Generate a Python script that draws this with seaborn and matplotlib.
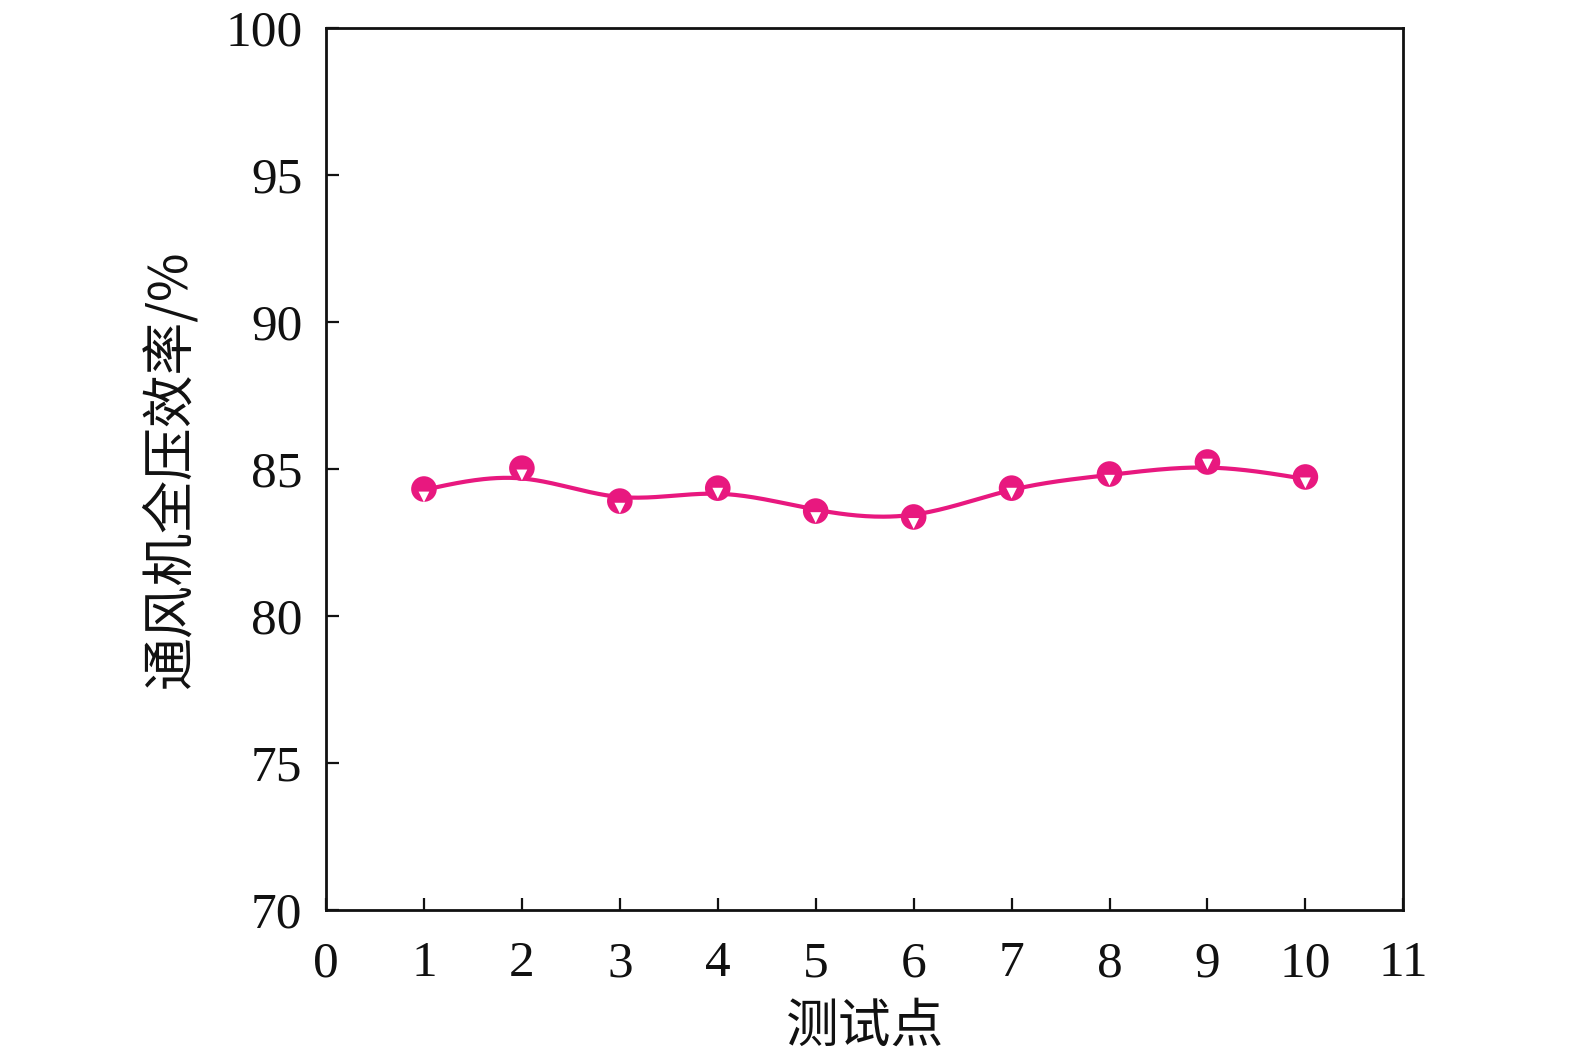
import numpy as np
import pandas as pd
import matplotlib
matplotlib.use("Agg")
import matplotlib.pyplot as plt
import seaborn as sns

# 数据
test_points = [1, 2, 3, 4, 5, 6, 7, 8, 9, 10]
efficiency = [84.32, 85.03, 83.91, 84.35, 83.57, 83.37, 84.35, 84.83, 85.24, 84.73]
efficiency_tri = [84.05, 84.80, 83.67, 84.18, 83.35, 83.15, 84.18, 84.62, 85.17, 84.53]
# 平滑曲线在各测试点处的取值
curve_vals = [84.29, 84.68, 84.05, 84.16, 83.62, 83.45, 84.29, 84.80, 85.05, 84.66]
x_ticks = list(range(0, 12))
y_ticks = [70, 75, 80, 85, 90, 95, 100]


def natural_spline(x, y, xs):
    x = np.asarray(x, float)
    y = np.asarray(y, float)
    n = len(x)
    h = np.diff(x)
    A = np.zeros((n, n))
    b = np.zeros(n)
    A[0, 0] = A[-1, -1] = 1
    for i in range(1, n - 1):
        A[i, i - 1] = h[i - 1]
        A[i, i] = 2 * (h[i - 1] + h[i])
        A[i, i + 1] = h[i]
        b[i] = 6 * ((y[i + 1] - y[i]) / h[i] - (y[i] - y[i - 1]) / h[i - 1])
    m = np.linalg.solve(A, b)
    idx = np.clip(np.searchsorted(x, xs) - 1, 0, n - 2)
    t = xs - x[idx]
    hi = h[idx]
    a = (m[idx + 1] - m[idx]) / (6 * hi)
    bb = m[idx] / 2
    c = (y[idx + 1] - y[idx]) / hi - hi * (2 * m[idx] + m[idx + 1]) / 6
    return y[idx] + c * t + bb * t ** 2 + a * t ** 3


sns.set_theme(style="white")
plt.rcParams["font.family"] = ["Liberation Serif", "Noto Sans CJK SC", "DejaVu Sans"]
plt.rcParams["axes.linewidth"] = 2.0

color = "#E8187F"

df = pd.DataFrame({"x": test_points, "y": efficiency, "y_tri": efficiency_tri})
xs = np.linspace(1, 10, 400)
curve = pd.DataFrame({"x": xs, "y": natural_spline(test_points, curve_vals, xs)})

fig = plt.figure(figsize=(15.75, 10.57), dpi=100)
ax = fig.add_axes([0.207, 0.139, 0.684, 0.8345])

sns.lineplot(data=curve, x="x", y="y", color=color, linewidth=3, ax=ax, zorder=2)
sns.scatterplot(data=df, x="x", y="y", color=color, s=340, edgecolor="none", ax=ax, zorder=3)
sns.scatterplot(data=df, x="x", y="y_tri", color="white", marker="v", s=60,
                edgecolor="none", ax=ax, zorder=4)

ax.set_xlim(0, 11)
ax.set_ylim(70, 100)
ax.set_xticks(x_ticks)
ax.set_yticks(y_ticks)
ax.tick_params(bottom=True, left=True, direction="in", length=9, width=1.6,
               labelsize=37, colors="#111111")
ax.tick_params(axis="x", pad=22)
ax.tick_params(axis="y", pad=17)
for sp in ax.spines.values():
    sp.set_color("#111111")
    sp.set_visible(True)

ax.set_xlabel("测试点", fontsize=38, family=["Noto Sans CJK SC"], labelpad=8, color="#111111")
ax.set_ylabel("通风机全压效率/%", fontsize=38, family=["Noto Sans CJK SC", "Liberation Serif"],
              labelpad=20, color="#111111")
ax.grid(False)

fig.savefig("out.png", dpi=100, facecolor="white")
